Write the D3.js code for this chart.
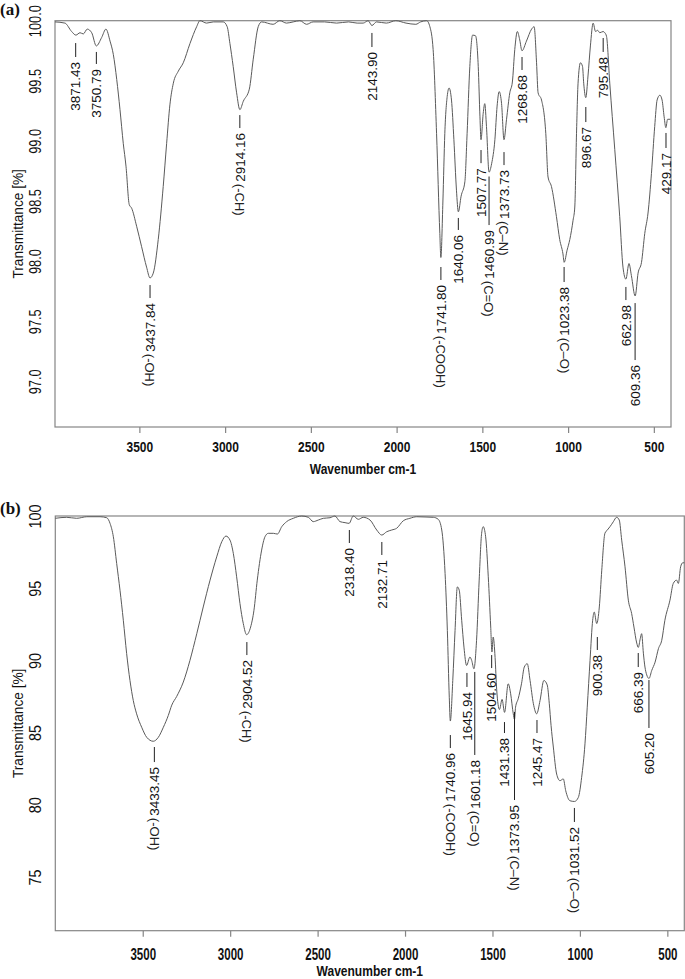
<!DOCTYPE html>
<html><head><meta charset="utf-8">
<script src="https://cdn.jsdelivr.net/npm/d3@7"></script>
<style>body{margin:0;background:#fff}svg{display:block}</style>
</head><body>
<svg id="c" width="685" height="979"></svg>
<script>
// ---------- DATA ----------
const ticksX = [3500, 3000, 2500, 2000, 1500, 1000, 500];
const ticksYA = [97.0, 97.5, 98.0, 98.5, 99.0, 99.5, 100.0];
const ticksYB = [75, 80, 85, 90, 95, 100];

// Spectrum (a): wavenumber / transmittance
const wnA = [3992,3934,3895,3870,3846,3827,3804,3778,3751,3720,3695,3671,3652,3632,3613,3594,3578,3559,3545,3516,3487,3458,3438,3419,3390,3361,3341,3322,3302,3273,3244,3205,3166,3147,3108,3069,3011,2988,2972,2953,2933,2914,2894,2859,2836,2807,2787,2720,2681,2642,2603,2564,2525,2487,2420,2350,2280,2230,2195,2166,2144,2117,2060,2005,1945,1888,1860,1825,1806,1787,1767,1748,1742,1730,1719,1705,1694,1680,1666,1651,1640,1624,1602,1589,1573,1557,1540,1524,1514,1508,1495,1486,1476,1461,1446,1427,1414,1402,1388,1374,1359,1340,1325,1311,1296,1282,1269,1243,1213,1198,1184,1175,1155,1130,1117,1097,1068,1049,1030,1023,1006,990,971,961,951,942,928,916,909,897,884,870,854,840,828,815,796,786,776,757,728,699,680,663,645,631,609,592,572,553,534,514,495,481,465,452,440,430,420,404];
const tA = [99.99,99.98,99.91,99.88,99.90,99.89,99.93,99.90,99.79,99.86,99.93,99.83,99.72,99.51,99.26,98.98,98.79,98.47,98.44,98.29,98.12,97.95,97.86,97.90,98.18,98.62,98.98,99.30,99.48,99.58,99.65,99.81,99.95,100.0,99.98,99.99,99.99,99.95,99.81,99.62,99.40,99.26,99.33,99.43,99.68,99.95,99.99,99.97,100.0,99.98,99.99,100.0,99.97,99.99,99.99,99.98,99.99,99.98,99.98,100.0,99.96,99.99,99.98,100.0,99.98,99.97,99.99,100.0,99.95,99.76,99.06,98.23,98.03,98.50,99.06,99.37,99.44,99.34,99.01,98.59,98.41,98.54,98.66,99.06,99.62,99.88,99.875,99.62,99.20,99.01,99.23,99.31,99.12,98.74,98.81,99.01,99.29,99.41,99.31,99.01,99.18,99.40,99.49,99.76,99.91,99.84,99.75,99.83,99.93,99.95,99.65,99.40,99.34,99.06,98.70,98.62,98.37,98.18,98.06,97.99,98.09,98.18,98.34,98.45,99.06,99.48,99.65,99.62,99.48,99.36,99.54,99.79,99.98,99.91,99.92,99.90,99.91,99.90,99.87,99.48,98.93,98.37,97.95,97.85,97.98,97.88,97.71,97.90,97.99,98.23,98.40,98.73,99.12,99.34,99.38,99.34,99.20,99.11,99.18,99.18];

// Spectrum (b)
const wnB = [4000,3935,3878,3820,3744,3706,3687,3668,3649,3630,3611,3592,3573,3554,3535,3506,3477,3440,3411,3382,3354,3334,3306,3268,3230,3191,3154,3115,3077,3048,3024,3001,2982,2963,2944,2925,2906,2883,2864,2845,2820,2801,2782,2753,2730,2705,2677,2639,2591,2553,2525,2496,2467,2429,2401,2372,2343,2320,2296,2267,2239,2200,2162,2133,2105,2076,2048,2010,1972,1933,1880,1838,1810,1790,1771,1758,1747,1741,1727,1714,1701,1690,1676,1663,1648,1629,1619,1606,1591,1576,1562,1553,1539,1524,1510,1503,1496,1485,1476,1460,1445,1431,1410,1396,1381,1374,1368,1353,1334,1318,1301,1285,1266,1247,1228,1206,1187,1175,1165,1152,1133,1114,1095,1081,1057,1031,1009,990,971,958,942,927,918,904,889,875,857,843,828,809,790,775,761,742,723,704,691,675,666,655,647,637,628,618,605,589,570,551,532,514,485,466,447,437,424,412,403];
const tB = [99.84,99.91,99.84,99.95,99.95,99.88,99.49,98.56,96.71,94.86,92.78,90.47,88.61,87.22,86.30,85.37,84.67,84.40,84.67,85.37,86.18,86.9,87.5,88.5,90.0,91.85,93.7,95.56,97.17,98.22,98.61,98.33,97.41,95.79,93.94,92.55,91.78,92.31,93.47,95.56,97.64,98.56,98.80,98.80,98.75,99.26,99.61,99.84,100.0,99.91,99.61,99.72,99.84,99.88,100.0,99.61,99.54,99.49,100.0,99.77,99.91,99.72,99.03,98.68,98.91,99.03,99.15,99.67,99.84,99.95,99.93,99.91,99.77,99.03,96.02,92.08,87.45,85.8,88.61,92.08,95.09,94.86,92.78,90.92,89.65,90.23,90.0,89.42,91.39,95.56,98.8,99.26,98.56,95.79,92.31,90.58,91.62,90.2,88.0,86.6,87.3,86.4,88.38,87.69,86.3,85.9,86.76,87.34,88.38,89.54,89.77,88.61,87.0,86.3,87.22,88.61,88.3,87.0,85.5,84.0,82.13,81.67,81.79,80.97,80.28,80.23,80.51,81.9,84.22,86.76,90.0,92.78,93.35,92.55,93.7,96.25,98.8,99.03,99.26,99.6,99.91,99.72,98.33,96.48,94.17,93.24,92.31,91.2,90.9,91.5,91.85,90.5,89.54,89.0,88.75,89.31,89.88,90.81,91.39,92.78,94.17,95.33,95.56,95.33,96.48,96.76,96.76];

// Peak annotations: wavenumber, group, leader top / bottom (transmittance)
const peakWnA   = [3871.43,3750.79,3437.84,2914.16,2143.90,1741.80,1640.06,1507.77,1460.99,1373.73,1268.68,1023.38,896.67,795.48,662.98,609.36,429.17];
const peakGrpA  = ["","","(-OH)","(-CH)","","(-COOH)","","","(C=O)","(C–N)","","(C–O)","","","","",""];
const peakTopA  = [99.814,99.740,97.801,99.215,99.898,97.951,98.359,98.924,98.704,98.907,99.698,97.951,99.282,99.856,97.785,97.651,99.066];
const peakBotA  = [99.698,99.640,97.693,99.107,99.781,97.843,98.259,98.815,98.300,98.799,99.590,97.826,99.157,99.740,97.676,97.177,98.941];

const peakWnB   = [3433.45,2904.52,2318.40,2132.71,1740.96,1645.94,1601.18,1504.60,1431.38,1373.95,1245.47,1031.52,900.38,666.39,605.20];
const peakGrpB  = ["(-OH)","(-CH)","","","(-COOH)","","(C=O)","","","(C–N)","","(C–O)","","",""];
const peakTopB  = [84.00,91.27,99.03,98.20,84.83,89.13,89.20,90.37,85.73,86.43,85.87,79.78,91.62,90.51,88.64];
const peakBotB  = [82.96,90.37,98.13,97.30,83.93,88.16,83.45,89.47,84.97,80.33,84.97,78.81,90.72,89.54,85.32];

// ---------- DRAW ----------
const svg = d3.select("#c");
const SANS = "'Liberation Sans', Arial, sans-serif";
const AXC = "#858585";

function panel(o) {
  const x = d3.scaleLinear().domain(o.xd).range([o.l, o.r]);
  const y = d3.scaleLinear().domain(o.yd).range([o.b, o.t]);
  const g = svg.append("g");

  // x axis
  const ax = g.append("g").attr("transform", `translate(0,${o.b})`)
    .call(d3.axisBottom(x).tickValues(ticksX).tickSize(6).tickPadding(0).tickFormat(d3.format("d")));
  ax.select(".domain").remove();
  ax.selectAll(".tick line").attr("stroke", AXC).attr("stroke-width", 1.2);
  ax.selectAll(".tick text")
    .attr("y", null).attr("dy", null)
    .attr("transform", `translate(0,${o.xlabBase - o.b}) scale(${o.xlabSx},1)`)
    .attr("font-family", SANS).attr("font-size", o.xlabFs).attr("font-weight", "bold").attr("fill", "#111");

  // y axis (labels only)
  const ay = g.append("g").attr("transform", `translate(${o.l},0)`)
    .call(d3.axisLeft(y).tickValues(o.yt).tickSize(0).tickPadding(0).tickFormat(o.yfmt));
  ay.select(".domain").remove();
  ay.selectAll(".tick text")
    .attr("x", null).attr("dy", "0.35em").attr("text-anchor", "middle")
    .attr("transform", `translate(${35.5 - o.l},0) rotate(-90) scale(${o.ylabSx},1)`)
    .attr("font-family", SANS).attr("font-size", o.ylabFs).attr("fill", "#111");

  // box
  g.append("rect").attr("x", o.l).attr("y", o.t).attr("width", o.r - o.l).attr("height", o.b - o.t)
    .attr("fill", "none").attr("stroke", AXC).attr("stroke-width", 1.2);

  // curve
  const pts = o.wn.map((w, i) => [w, o.tv[i]]);
  g.append("path").datum(pts)
    .attr("d", d3.line().x(d => x(d[0])).y(d => y(d[1])).curve(d3.curveMonotoneX))
    .attr("fill", "none").attr("stroke", "#5a5a5a").attr("stroke-width", 1);

  // annotations
  o.pw.forEach((w, i) => {
    const px = x(w), yt = y(o.ptop[i]), yb = y(o.pbot[i]);
    g.append("line").attr("x1", px).attr("x2", px).attr("y1", yt).attr("y2", yb)
      .attr("stroke", "#222").attr("stroke-width", 1);
    const ny = yb + 5;
    const t = g.append("text").text(w.toFixed(2))
      .attr("transform", `translate(${px},${ny}) rotate(-90)`)
      .attr("text-anchor", "end").attr("dy", "0.35em")
      .attr("font-family", SANS).attr("font-size", 13.5).attr("fill", "#111");
    if (o.pg[i]) {
      const len = t.node().getComputedTextLength();
      g.append("text").text(o.pg[i])
        .attr("transform", `translate(${px},${ny + len + 2}) rotate(90)`)
        .attr("text-anchor", "start").attr("dy", "0.35em")
        .attr("font-family", SANS).attr("font-size", 13).attr("fill", "#222");
    }
  });

  // axis titles
  g.append("text").text("Wavenumber cm-1")
    .attr("transform", `translate(${(o.l + o.r) / 2},${o.xtitBase}) scale(0.86,1)`)
    .attr("text-anchor", "middle").attr("font-family", SANS).attr("font-size", 14).attr("font-weight", "bold").attr("fill", "#111");
  g.append("text").text("Transmittance [%]")
    .attr("transform", `translate(18,${(o.t + o.b) / 2}) rotate(-90) scale(0.91,1)`)
    .attr("text-anchor", "middle").attr("dy", "0.35em")
    .attr("font-family", SANS).attr("font-size", 15).attr("fill", "#111");
  g.append("text").text(o.tag).attr("x", 0).attr("y", o.tagBase)
    .attr("font-family", "'Liberation Serif', 'Times New Roman', serif").attr("font-weight", "bold")
    .attr("font-size", 17).attr("fill", "#111");
}

panel({
  l: 55, r: 671, t: 20.7, b: 427, xd: [3992, 400], yd: [96.62, 100],
  yt: ticksYA, yfmt: d3.format(".1f"), wn: wnA, tv: tA,
  pw: peakWnA, pg: peakGrpA, ptop: peakTopA, pbot: peakBotA,
  xlabBase: 451.7, xlabSx: 0.8, xlabFs: 15, ylabFs: 16, ylabSx: 0.8,
  xtitBase: 474, tag: "(a)", tagBase: 14.5
});
panel({
  l: 55.3, r: 684.3, t: 516, b: 930.7, xd: [4000, 403], yd: [71.28, 100],
  yt: ticksYB, yfmt: d3.format("d"), wn: wnB, tv: tB,
  pw: peakWnB, pg: peakGrpB, ptop: peakTopB, pbot: peakBotB,
  xlabBase: 960, xlabSx: 0.7, xlabFs: 16.5, ylabFs: 17, ylabSx: 0.85,
  xtitBase: 976, tag: "(b)", tagBase: 514
});
</script>
</body></html>
